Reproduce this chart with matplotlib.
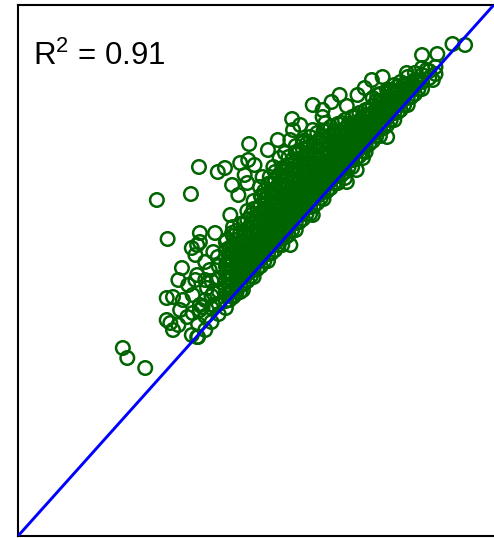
import numpy as np
import matplotlib
matplotlib.use("Agg")
import matplotlib.pyplot as plt

plt.rcParams["mathtext.fontset"] = "custom"
plt.rcParams["mathtext.rm"] = "Liberation Sans"
plt.rcParams["mathtext.it"] = "Liberation Sans"

# dense core of the cloud, read column by column (predicted value -> observed values)
core_pred = [201, 209, 216, 224, 232, 240, 248, 256, 263, 271, 279, 287, 295, 302,
             310, 318, 326, 334, 341, 349, 357, 365, 373, 381, 388, 396, 404, 412,
             420, 427, 435, 443, 451, 459, 466]
core_obs = [
    [199, 212],
    [206, 220, 236],
    [214, 228, 240, 255],
    [222, 232, 245, 258, 270],
    [228, 235, 242, 249, 256, 263, 270, 278, 286, 294],
    [239, 246, 253, 260, 267, 274, 282, 291, 300, 309],
    [244, 251, 258, 265, 272, 279, 286, 294, 303, 312],
    [255, 262, 269, 276, 283, 290, 298, 307, 316, 325],
    [259, 266, 273, 280, 287, 294, 301, 309, 318, 327, 335],
    [270, 277, 284, 291, 298, 305, 313, 322, 331, 340],
    [275, 282, 289, 296, 303, 310, 317, 325, 334, 343, 352],
    [286, 293, 300, 307, 314, 321, 329, 338, 347, 356, 364],
    [291, 298, 305, 312, 319, 326, 333, 341, 350, 359, 368],
    [301, 308, 315, 322, 329, 336, 344, 353, 362, 371, 379],
    [306, 313, 320, 327, 334, 341, 348, 356, 365, 374, 383, 390],
    [317, 324, 331, 338, 345, 352, 360, 369, 378, 387, 395],
    [322, 329, 336, 343, 350, 357, 364, 372, 381, 390, 399],
    [333, 340, 347, 354, 361, 368, 376, 385, 394, 403],
    [337, 344, 351, 358, 365, 372, 379, 387, 396, 405],
    [348, 355, 362, 369, 376, 383, 391, 400, 409],
    [353, 360, 367, 374, 381, 388, 395, 403, 412],
    [364, 371, 378, 385, 392, 399, 407, 416],
    [369, 376, 383, 390, 397, 404, 411, 419],
    [380, 387, 394, 401, 408, 415, 423],
    [384, 391, 398, 405, 412, 419, 426],
    [395, 402, 409, 416, 423, 430, 438],
    [400, 407, 414, 421, 428, 435, 442],
    [411, 418, 425, 432, 439, 446],
    [416, 423, 430, 437, 444, 451],
    [426, 433, 440, 447, 454],
    [431, 438, 445, 452, 459],
    [442, 449, 456, 463],
    [447, 454, 461, 468],
    [458, 465],
    [462, 469],
]

# second, staggered set of columns inside the core
mid_pred = [236, 244, 252, 260, 267, 275, 283, 291, 299, 306, 314, 322, 330, 338,
            345, 353, 361, 369, 377, 385, 392, 400, 408, 416, 424, 431, 439, 447]
mid_obs = [
    [236, 243, 250, 257, 264, 271, 279, 288],
    [244, 251, 258, 265, 272, 279, 287, 296, 305],
    [252, 259, 266, 273, 280, 287, 295, 304, 313],
    [260, 267, 274, 281, 288, 295, 303, 312, 321],
    [267, 274, 281, 288, 295, 302, 310, 319, 328],
    [275, 282, 289, 296, 303, 310, 318, 327, 336, 345],
    [283, 290, 297, 304, 311, 318, 326, 335, 344, 353],
    [291, 298, 305, 312, 319, 326, 334, 343, 352, 361],
    [299, 306, 313, 320, 327, 334, 342, 351, 360, 369],
    [306, 313, 320, 327, 334, 341, 349, 358, 367, 376],
    [314, 321, 328, 335, 342, 349, 357, 366, 375, 384],
    [322, 329, 336, 343, 350, 357, 365, 374, 383, 392],
    [330, 337, 344, 351, 358, 365, 373, 382, 391],
    [338, 345, 352, 359, 366, 373, 381, 390, 399],
    [345, 352, 359, 366, 373, 380, 388, 397, 406],
    [353, 360, 367, 374, 381, 388, 396, 405],
    [361, 368, 375, 382, 389, 396, 404, 413],
    [369, 376, 383, 390, 397, 404, 412],
    [377, 384, 391, 398, 405, 412, 420],
    [385, 392, 399, 406, 413, 420],
    [392, 399, 406, 413, 420, 427],
    [400, 407, 414, 421, 428, 435],
    [408, 415, 422, 429, 436],
    [416, 423, 430, 437, 444],
    [424, 431, 438, 445],
    [431, 438, 445, 452],
    [439, 446, 453],
    [447, 454],
]

# scattered points around the core
pred = [485, 499, 451, 468, 456, 434, 463, 407, 415, 401, 387, 379, 367, 350,
        329, 340, 340, 306, 307, 304, 298, 292, 285, 273, 270, 281, 272, 343,
        329, 318, 258, 257, 248, 231, 223, 202, 256, 246, 237, 193, 155, 167,
        203, 220, 200, 198, 183, 179, 200, 214, 223, 166, 173, 195, 211, 218,
        166, 170, 173, 189, 195, 203, 206, 218, 194, 200, 117, 122, 142, 240,
        251, 244, 233, 240, 233, 248, 270, 412, 378, 385, 367, 239, 203, 194,
        218, 209, 222, 234, 242, 203, 184, 198, 423, 304, 365, 329,
        209, 190, 181, 179, 264, 279, 290, 253, 239, 315, 359, 395, 296]
obs = [492, 491, 481, 482, 466, 463, 456, 459, 446, 441, 448, 441, 430, 434,
       431, 426, 419, 417, 406, 396, 383, 378, 369, 359, 349, 359, 339, 413,
       406, 393, 392, 376, 373, 368, 364, 369, 353, 341, 321, 342, 336, 297,
       303, 303, 291, 281, 268, 256, 261, 266, 279, 238, 239, 241, 248, 243,
       216, 213, 206, 219, 223, 226, 229, 231, 201, 199, 188, 178, 168, 246,
       246, 256, 273, 289, 296, 276, 289, 399, 366, 378, 354, 303, 294, 288,
       284, 256, 256, 259, 241, 231, 236, 256, 449, 291, 358, 321,
       274, 251, 226, 211, 371, 386, 396, 361, 351, 411, 441, 456, 364]

r2_label = r"R$^2$ = 0.91"

x_all = list(pred)
y_all = list(obs)
for cols_x, cols_y in [(core_pred, core_obs), (mid_pred, mid_obs)]:
    for xv, col in zip(cols_x, cols_y):
        for yv in col:
            x_all.append(xv)
            y_all.append(yv)

fig = plt.figure(figsize=(4.94, 5.38), dpi=100)
ax = fig.add_axes([18 / 494, 2 / 538, 482 / 494, 531 / 538])

ax.scatter(x_all, y_all, s=95, facecolors="none", edgecolors="#006400",
           linewidths=1.8, zorder=2)
ax.axline((0, 0), slope=1, color="#0000ff", lw=2.1, zorder=3)

ax.set_xlim(0, 538)
ax.set_ylim(0, 531)
ax.set_xticks([])
ax.set_yticks([])
for sp in ax.spines.values():
    sp.set_linewidth(1.5)
    sp.set_color("black")

ax.text(0.031, 0.887, r2_label, transform=ax.transAxes, fontsize=22.5,
        family="Liberation Sans", va="baseline", ha="left")

fig.savefig("out.png", dpi=100)
